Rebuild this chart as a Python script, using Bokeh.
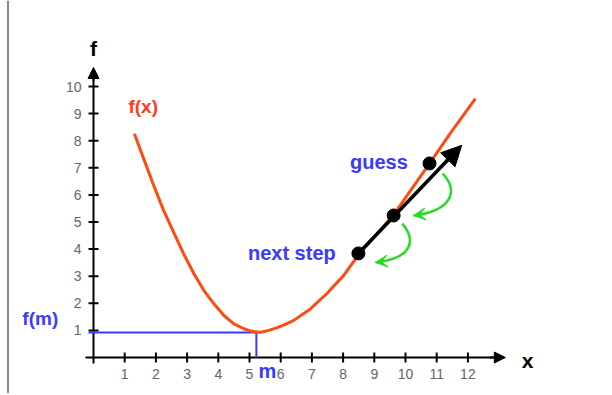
import math
from bokeh.plotting import figure
from bokeh.models import Range1d, Arrow, NormalHead, VeeHead, Span
from bokeh.core.properties import value
from bokeh.embed import file_html
from bokeh.resources import INLINE

# ---- data ----
curve_x = [1.31, 1.61, 1.93, 2.25, 2.57, 2.89, 3.22, 3.54, 3.86, 4.18, 4.50, 4.82, 5.00, 5.14,
           5.30, 5.40, 5.62, 5.89, 6.15, 6.42, 6.96, 7.49, 8.02, 8.50, 9.09, 9.63, 10.16, 10.78, 11.44, 12.24]
curve_y = [8.26, 7.33, 6.35, 5.42, 4.62, 3.82, 3.09, 2.47, 1.98, 1.55, 1.24, 1.06, 0.99, 0.96,
           0.93, 0.94, 1.00, 1.10, 1.22, 1.37, 1.80, 2.37, 3.03, 3.80, 4.57, 5.28, 6.16, 7.17, 8.28, 9.55]
x_ticks = [1, 2, 3, 4, 5, 6, 7, 8, 9, 10, 11, 12]
y_ticks = [1, 2, 3, 4, 5, 6, 7, 8, 9, 10]
x_tick_labels = ["1", "2", "3", "4", "5", "6", "7", "8", "9", "10", "11", "12"]
y_tick_labels = ["1", "2", "3", "4", "5", "6", "7", "8", "9", "10"]
x_axis_end = 13.2
y_axis_end = 10.7
m_val = 5.22
fm_val = 0.92
step_x = [8.49, 9.62, 10.77]
step_y = [3.84, 5.24, 7.16]
tangent_tip_x = 11.80
tangent_tip_y = 7.83
# green curved arrows: start, control1, control2, end
green_x0 = [11.19, 9.90]
green_y0 = [6.79, 4.94]
green_cx0 = [11.70, 10.35]
green_cy0 = [6.16, 4.32]
green_cx1 = [11.51, 10.22]
green_cy1 = [5.42, 3.65]
green_x1 = [10.26, 9.04]
green_y1 = [5.24, 3.51]

# ---- styling ----
ORANGE = "#ff4a12"
RED_TXT = "#ff3b1f"
BLUE = "#3a3aff"
GREEN = "#22dd22"
GRAY = "#666666"
FONT = value("Liberation Sans")

PX_X = 31.2   # pixels per x unit
PX_Y = 27.1   # pixels per y unit
X0_PX = 93.0  # frame pixel of x = 0
Y0_PX = 357.0 # frame pixel of y = 0
W, H = 610, 393

x_lo = -X0_PX / PX_X
y_hi = Y0_PX / PX_Y
p = figure(width=W, height=H,
           x_range=Range1d(x_lo, x_lo + W / PX_X), y_range=Range1d(y_hi - H / PX_Y, y_hi),
           x_axis_type=None, y_axis_type=None,
           output_backend="svg", toolbar_location=None, min_border=0)
p.grid.visible = False
p.outline_line_color = None
p.background_fill_color = "white"

# page border line at left
p.add_layout(Span(location=(7.5 - X0_PX) / PX_X, dimension="height",
                  line_color="#888888", line_width=2))

# axes
p.segment(x0=[-8 / PX_X], y0=[0], x1=[x_axis_end - 0.2], y1=[0], line_color="black", line_width=2)
p.segment(x0=[0], y0=[-6 / PX_Y], x1=[0], y1=[y_axis_end - 0.2], line_color="black", line_width=2)
p.add_layout(Arrow(end=NormalHead(size=11, fill_color="black", line_color="black"),
                   x_start=x_axis_end - 0.5, y_start=0, x_end=x_axis_end, y_end=0,
                   line_color="black", line_width=2))
p.add_layout(Arrow(end=NormalHead(size=11, fill_color="black", line_color="black"),
                   x_start=0, y_start=y_axis_end - 0.5, x_end=0, y_end=y_axis_end,
                   line_color="black", line_width=2))
p.scatter(x=x_ticks, y=[0] * len(x_ticks), marker="dash", size=10, angle=math.pi / 2,
          line_color="black", line_width=2)
p.scatter(x=[0] * len(y_ticks), y=y_ticks, marker="dash", size=10,
          line_color="black", line_width=2)

# tick labels
p.text(x=x_ticks, y=[-16.5 / PX_Y] * len(x_ticks), text=x_tick_labels,
       text_align="center", text_baseline="middle", text_font=FONT,
       text_font_size="14px", text_color=GRAY)
p.text(x=[-12 / PX_X] * len(y_ticks), y=y_ticks, text=y_tick_labels,
       text_align="right", text_baseline="middle", text_font=FONT,
       text_font_size="14px", text_color=GRAY)

# axis titles
p.text(x=[0], y=[11.40], text=["f"], text_align="center", text_baseline="middle",
       text_font=FONT, text_font_size="21px", text_font_style="bold", text_color="black")
p.text(x=[13.91], y=[-0.11], text=["x"], text_align="center", text_baseline="middle",
       text_font=FONT, text_font_size="21px", text_font_style="bold", text_color="black")

# blue guide lines to minimum
p.line(x=[-5 / PX_X, m_val, m_val], y=[fm_val, fm_val, 0], line_color=BLUE, line_width=2)

# curve
p.line(x=curve_x, y=curve_y, line_color=ORANGE, line_width=3, line_join="round")

# tangent step
p.segment(x0=[step_x[0]], y0=[step_y[0]], x1=[tangent_tip_x - 0.25], y1=[tangent_tip_y - 0.3],
          line_color="black", line_width=3.5)
dx = tangent_tip_x - step_x[0]
dy = tangent_tip_y - step_y[0]
p.add_layout(Arrow(end=NormalHead(size=20, fill_color="black", line_color="black"),
                   x_start=tangent_tip_x - 0.15 * dx, y_start=tangent_tip_y - 0.15 * dy,
                   x_end=tangent_tip_x, y_end=tangent_tip_y,
                   line_color="black", line_width=3.5))

# green curved arrows
p.bezier(x0=green_x0, y0=green_y0, x1=green_x1, y1=green_y1,
         cx0=green_cx0, cy0=green_cy0, cx1=green_cx1, cy1=green_cy1,
         line_color=GREEN, line_width=2.5)
for i in range(len(green_x1)):
    ex, ey = green_x1[i], green_y1[i]
    cx, cy = green_cx1[i], green_cy1[i]
    p.add_layout(Arrow(end=VeeHead(size=12, fill_color=GREEN, line_color=GREEN),
                       x_start=ex + 0.2 * (cx - ex), y_start=ey + 0.2 * (cy - ey),
                       x_end=ex, y_end=ey, line_color=GREEN, line_width=2.5))

# dots
p.scatter(x=step_x, y=step_y, size=13, fill_color="black", line_color="black")

# labels
p.text(x=[1.12], y=[9.26], text=["f(x)"], text_align="left", text_baseline="middle",
       text_font=FONT, text_font_size="19px", text_font_style="bold", text_color=RED_TXT)
p.text(x=[8.22], y=[7.22], text=["guess"], text_align="left", text_baseline="middle",
       text_font=FONT, text_font_size="20px", text_font_style="bold", text_color=BLUE)
p.text(x=[4.95], y=[3.87], text=["next step"], text_align="left", text_baseline="middle",
       text_font=FONT, text_font_size="20px", text_font_style="bold", text_color=BLUE)
p.text(x=[-2.28], y=[1.44], text=["f(m)"], text_align="left", text_baseline="middle",
       text_font=FONT, text_font_size="19px", text_font_style="bold", text_color=BLUE)
p.text(x=[5.29], y=[-0.50], text=["m"], text_align="left", text_baseline="middle",
       text_font=FONT, text_font_size="20px", text_font_style="bold", text_color=BLUE)

open("out.html", "w").write(file_html(p, INLINE))
